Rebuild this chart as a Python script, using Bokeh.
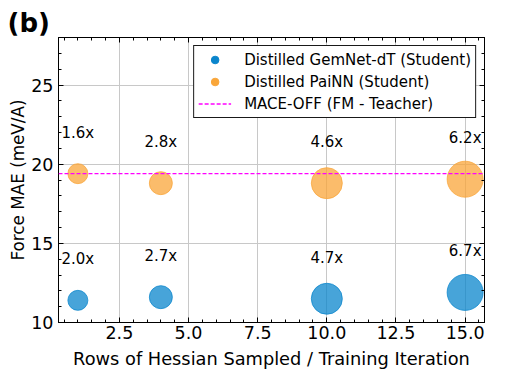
from bokeh.plotting import figure
from bokeh.models import (ColumnDataSource, Range1d, SingleIntervalTicker, LinearAxis,
                          Legend, LegendItem, Span, PrintfTickFormatter,
                          CustomJSTickFormatter, Title)
from bokeh.embed import file_html
from bokeh.resources import INLINE
from bokeh.core.properties import value

# ---- data ----
rows_sampled = [1, 4, 10, 15]
gemnet_mae = [11.4, 11.6, 11.5, 11.9]
gemnet_speedup = ["2.0x", "2.7x", "4.7x", "6.7x"]
painn_mae = [19.4, 18.8, 18.8, 19.05]
painn_speedup = ["1.6x", "2.8x", "4.6x", "6.2x"]
mace_off_mae = 19.4
marker_diam = [20, 23, 31, 36]

FONT = "DejaVu Sans"
BLUE = "#0a85cc"
ORANGE = "#f9a63a"
LABEL_OFFSET = 2.6

p = figure(width=492, height=372, output_backend="svg", toolbar_location=None,
           x_range=Range1d(0.3, 15.7), y_range=Range1d(10, 28),
           min_border_left=58, min_border_right=8, min_border_top=37, min_border_bottom=50)
p.outline_line_color = "black"

p.title = Title(text="(b)", align="left", offset=-51, standoff=0,
                text_font=FONT, text_font_size="26px", text_font_style="bold",
                text_color="black")

g_src = ColumnDataSource(dict(x=rows_sampled, y=gemnet_mae, s=marker_diam,
                              ly=[v + LABEL_OFFSET for v in gemnet_mae], t=gemnet_speedup))
p_src = ColumnDataSource(dict(x=rows_sampled, y=painn_mae, s=marker_diam,
                              ly=[v + LABEL_OFFSET for v in painn_mae], t=painn_speedup))

mace = Span(location=mace_off_mae, dimension="width", line_color="#ff00ff",
            line_dash="4 2", line_width=1.4)
p.add_layout(mace)

p.scatter("x", "y", size="s", source=g_src, fill_color=BLUE, line_color=BLUE,
          fill_alpha=0.75, line_alpha=0.75)
p.scatter("x", "y", size="s", source=p_src, fill_color=ORANGE, line_color=ORANGE,
          fill_alpha=0.75, line_alpha=0.75)

for src in (g_src, p_src):
    p.text("x", "ly", text="t", source=src, text_align="center", text_baseline="middle",
           text_font=value(FONT), text_font_size="15px", text_color="black")

# legend proxies (placed outside visible range)
r1 = p.scatter(x=[-100], y=[-100], size=9, color=BLUE)
r2 = p.scatter(x=[-100], y=[-100], size=9, color=ORANGE)
r3 = p.line(x=[-100, -99], y=[-100, -100], line_color="#ff00ff",
            line_dash="4 2", line_width=1.4)
legend = Legend(items=[
    LegendItem(label="Distilled GemNet-dT (Student)", renderers=[r1]),
    LegendItem(label="Distilled PaiNN (Student)", renderers=[r2]),
    LegendItem(label="MACE-OFF (FM - Teacher)", renderers=[r3]),
], location="top_right", label_text_font=FONT, label_text_font_size="15px",
    label_text_color="black",
    border_line_color="black", border_line_width=1, border_line_alpha=0.9,
    margin=8, padding=4, spacing=3, label_height=19, glyph_height=19, glyph_width=33,
    label_standoff=13, background_fill_alpha=1)
p.add_layout(legend)

xt = SingleIntervalTicker(interval=2.5, num_minor_ticks=5)
yt = SingleIntervalTicker(interval=5, num_minor_ticks=5)
p.xaxis.ticker = xt
p.yaxis.ticker = yt
p.xaxis.formatter = PrintfTickFormatter(format="%.1f")
p.xgrid.ticker = xt
p.ygrid.ticker = yt
p.grid.grid_line_color = "#c8c8c8"
p.grid.grid_line_width = 1

p.xaxis.axis_label = "Rows of Hessian Sampled / Training Iteration"
p.yaxis.axis_label = "Force MAE (meV/A)"

for ax in (p.xaxis[0], p.yaxis[0]):
    ax.axis_label_text_font = FONT
    ax.axis_label_text_font_style = "normal"
    ax.axis_label_text_color = "black"
    ax.major_label_text_font = FONT
    ax.major_label_text_font_size = "17.5px"
    ax.major_label_text_color = "black"
    ax.axis_line_color = "black"
    ax.major_tick_line_color = "black"
    ax.minor_tick_line_color = "black"
    ax.major_tick_in = 5
    ax.major_tick_out = 0
    ax.minor_tick_in = 3
    ax.minor_tick_out = 0

p.xaxis.axis_label_text_font_size = "17.8px"
p.yaxis.axis_label_text_font_size = "16.8px"
p.xaxis.major_label_standoff = 3
p.xaxis.axis_label_standoff = 6
p.yaxis.major_label_standoff = 5
p.yaxis.axis_label_standoff = 0

blank = CustomJSTickFormatter(code="return ''")
for loc, tk in (("right", yt), ("above", xt)):
    ax = LinearAxis(ticker=tk, formatter=blank, major_label_standoff=0,
                    major_tick_in=5, major_tick_out=0, minor_tick_in=3, minor_tick_out=0,
                    axis_line_color="black", major_tick_line_color="black",
                    minor_tick_line_color="black")
    p.add_layout(ax, loc)

open("out.html", "w").write(file_html(p, INLINE))
